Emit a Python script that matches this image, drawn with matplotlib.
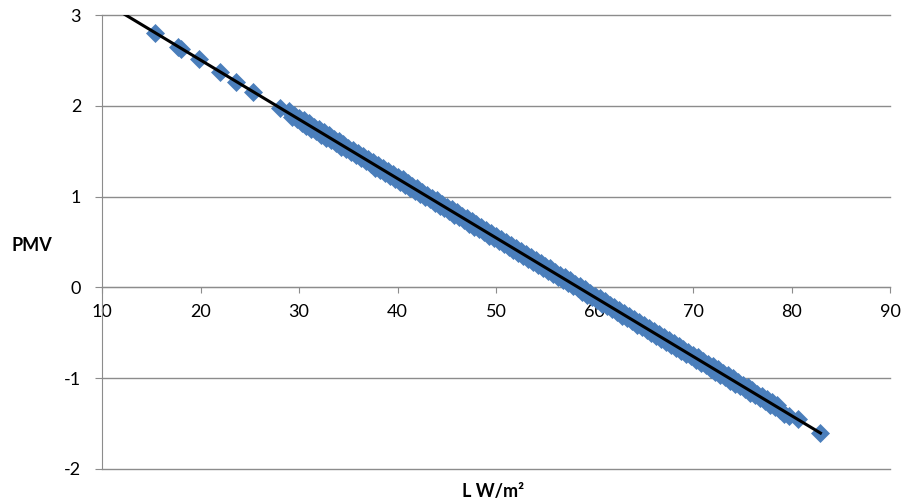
import numpy as np
import matplotlib
matplotlib.use("Agg")
import matplotlib.pyplot as plt

plt.rcParams['font.family'] = ['Lato', 'DejaVu Sans']
plt.rcParams['axes.unicode_minus'] = False

# 离散点（左上段）
x_top = [15.4, 17.7, 18.0, 19.8, 22.0, 23.6, 25.3, 28.1]
y_top = [2.80, 2.65, 2.63, 2.52, 2.37, 2.26, 2.15, 1.98]

# 密集段 - 上沿
x_up = [29.0, 29.5, 30.0, 30.5, 31.0, 31.5, 32.0, 32.5, 33.0, 33.5,
        34.0, 34.5, 35.0, 35.5, 36.0, 36.5, 37.0, 37.5, 38.0, 38.5,
        39.0, 39.5, 40.0, 40.5, 41.0, 41.5, 42.0, 42.5, 43.0, 43.5,
        44.0, 44.5, 45.0, 45.5, 46.0, 46.5, 47.0, 47.5, 48.0, 48.5,
        49.0, 49.5, 50.0, 50.5, 51.0, 51.5, 52.0, 52.5, 53.0, 53.5,
        54.0, 54.5, 55.0, 55.5, 56.0, 56.5, 57.0, 57.5, 58.0, 58.5,
        59.0, 59.5, 60.0, 60.5, 61.0, 61.5, 62.0, 62.5, 63.0, 63.5,
        64.0, 64.5, 65.0, 65.5, 66.0, 66.5, 67.0, 67.5, 68.0, 68.5,
        69.0, 69.5, 70.0, 70.5, 71.0, 71.5, 72.0, 72.5, 73.0, 73.5,
        74.0, 74.5, 75.0, 75.5, 76.0, 76.5, 77.0, 77.5, 78.0, 78.5]
y_up = [1.94, 1.90, 1.87, 1.84, 1.81, 1.77, 1.74, 1.71, 1.68, 1.64,
        1.61, 1.58, 1.54, 1.51, 1.48, 1.45, 1.41, 1.38, 1.35, 1.32,
        1.28, 1.25, 1.22, 1.19, 1.15, 1.12, 1.09, 1.05, 1.02, 0.99,
        0.96, 0.92, 0.89, 0.86, 0.83, 0.79, 0.76, 0.73, 0.70, 0.66,
        0.63, 0.60, 0.57, 0.53, 0.50, 0.47, 0.43, 0.40, 0.37, 0.34,
        0.30, 0.27, 0.24, 0.21, 0.17, 0.14, 0.11, 0.08, 0.04, 0.01,
        -0.02, -0.06, -0.09, -0.12, -0.15, -0.19, -0.22, -0.25, -0.28, -0.32,
        -0.35, -0.38, -0.41, -0.45, -0.48, -0.51, -0.55, -0.58, -0.61, -0.64,
        -0.68, -0.71, -0.74, -0.77, -0.81, -0.84, -0.87, -0.90, -0.94, -0.97,
        -1.00, -1.04, -1.07, -1.10, -1.13, -1.17, -1.20, -1.23, -1.26, -1.30]

# 密集段 - 下沿
x_lo = [29.25, 29.75, 30.25, 30.75, 31.25, 31.75, 32.25, 32.75, 33.25, 33.75,
        34.25, 34.75, 35.25, 35.75, 36.25, 36.75, 37.25, 37.75, 38.25, 38.75,
        39.25, 39.75, 40.25, 40.75, 41.25, 41.75, 42.25, 42.75, 43.25, 43.75,
        44.25, 44.75, 45.25, 45.75, 46.25, 46.75, 47.25, 47.75, 48.25, 48.75,
        49.25, 49.75, 50.25, 50.75, 51.25, 51.75, 52.25, 52.75, 53.25, 53.75,
        54.25, 54.75, 55.25, 55.75, 56.25, 56.75, 57.25, 57.75, 58.25, 58.75,
        59.25, 59.75, 60.25, 60.75, 61.25, 61.75, 62.25, 62.75, 63.25, 63.75,
        64.25, 64.75, 65.25, 65.75, 66.25, 66.75, 67.25, 67.75, 68.25, 68.75,
        69.25, 69.75, 70.25, 70.75, 71.25, 71.75, 72.25, 72.75, 73.25, 73.75,
        74.25, 74.75, 75.25, 75.75, 76.25, 76.75, 77.25, 77.75, 78.25, 78.75,
        79.25, 79.75, 80.6, 82.9]
y_lo = [1.88, 1.85, 1.81, 1.78, 1.75, 1.72, 1.68, 1.65, 1.62, 1.59,
        1.55, 1.52, 1.49, 1.46, 1.42, 1.39, 1.36, 1.32, 1.29, 1.26,
        1.23, 1.19, 1.16, 1.13, 1.10, 1.06, 1.03, 1.00, 0.97, 0.93,
        0.90, 0.87, 0.84, 0.80, 0.77, 0.74, 0.70, 0.67, 0.64, 0.61,
        0.57, 0.54, 0.51, 0.48, 0.44, 0.41, 0.38, 0.35, 0.31, 0.28,
        0.25, 0.21, 0.18, 0.15, 0.12, 0.08, 0.05, 0.02, -0.01, -0.05,
        -0.08, -0.11, -0.14, -0.18, -0.21, -0.24, -0.27, -0.31, -0.34, -0.37,
        -0.41, -0.44, -0.47, -0.50, -0.54, -0.57, -0.60, -0.63, -0.67, -0.70,
        -0.73, -0.76, -0.80, -0.83, -0.86, -0.90, -0.93, -0.96, -0.99, -1.03,
        -1.06, -1.09, -1.12, -1.16, -1.19, -1.22, -1.25, -1.29, -1.32, -1.35,
        -1.39, -1.42, -1.45, -1.60]

x_all = np.array(x_top + x_up + x_lo)
y_all = np.array(y_top + y_up + y_lo)

fig = plt.figure(figsize=(9.04, 5.01), dpi=100)
ax = fig.add_axes([0.1128, 0.0639, 0.8722, 0.9061])

ax.plot(x_all, y_all, linestyle="none", marker="D", markersize=9,
        color="#4A7EBB", markeredgecolor="#4A7EBB", markeredgewidth=0.5,
        zorder=3)

# 线性趋势线
k, b = np.polyfit(x_all, y_all, 1)
xt = np.array([10, 82.9])
ax.plot(xt, k * xt + b, color="black", linewidth=2.2, zorder=4)

ax.set_xlim(10, 90)
ax.set_ylim(-2, 3)
ax.set_xticks(range(10, 91, 10))
ax.set_yticks(range(-2, 4))

ax.grid(axis="y", color="#8c8c8c", linewidth=1, clip_on=False)
ax.set_axisbelow(True)
for s in ["top", "right"]:
    ax.spines[s].set_visible(False)
ax.spines["bottom"].set_position(("data", 0))
ax.spines["bottom"].set_color("#8c8c8c")
ax.spines["left"].set_color("#8c8c8c")
ax.tick_params(axis="x", direction="out", length=4, color="#8c8c8c",
               labelsize=13, pad=8)
ax.tick_params(axis="y", direction="out", length=5, color="#8c8c8c",
               labelsize=13, pad=10)

fig.text(32 / 904, 1 - 245 / 501, "PMV", fontsize=13, fontweight="bold",
         ha="center", va="center")
fig.text(493 / 904, 1 - 491 / 501, "L W/m²", fontsize=13, fontweight="bold",
         ha="center", va="center")

fig.savefig("out.png", dpi=100)
